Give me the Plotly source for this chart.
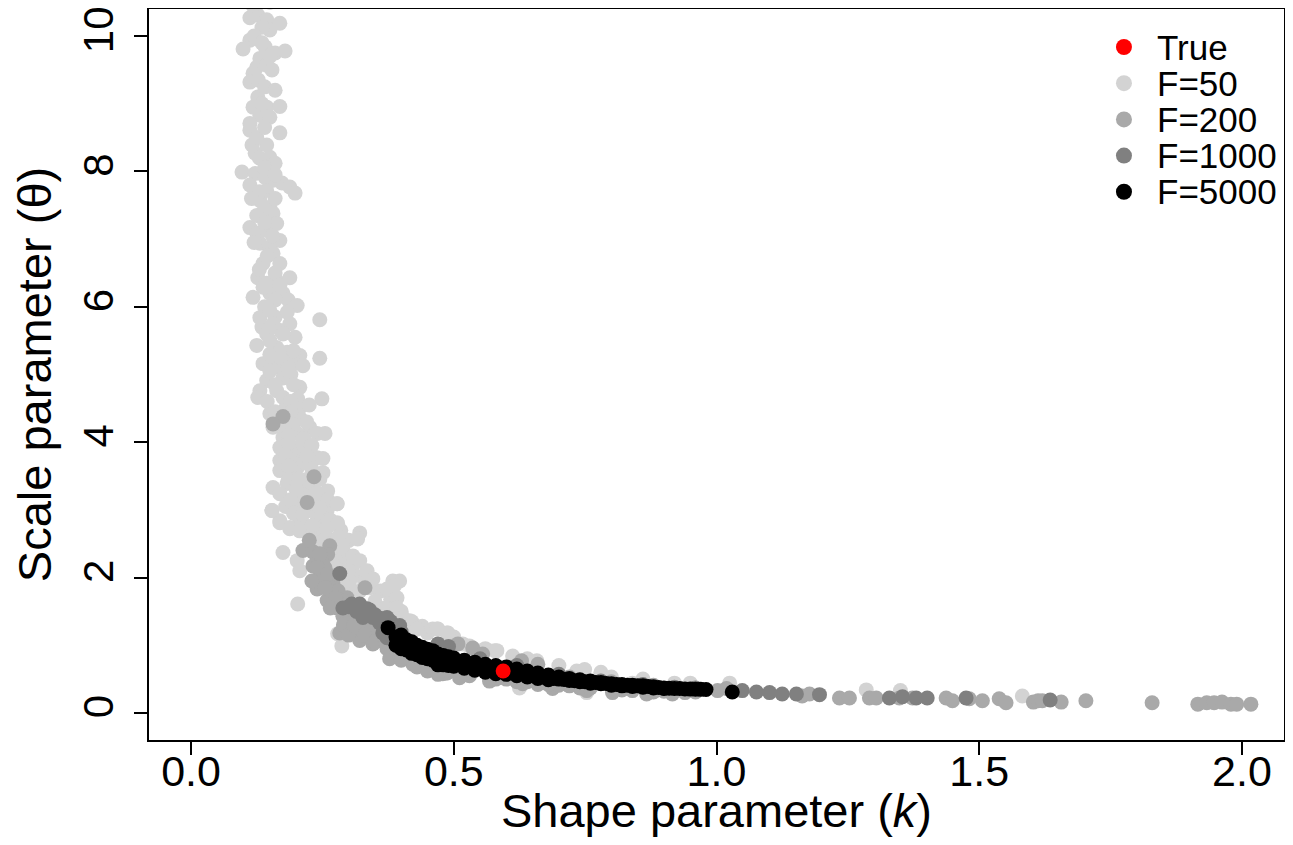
import plotly.graph_objects as go

# F=50 estimates (light grey)
f50_x = [0.112, 0.127, 0.144, 0.169, 0.150, 0.135, 0.112, 0.099, 0.141, 0.160, 0.179, 0.131, 0.125, 0.144,
         0.154, 0.118, 0.112, 0.127, 0.118, 0.144, 0.169, 0.131, 0.112, 0.112, 0.169, 0.116, 0.144, 0.122,
         0.150, 0.160, 0.097, 0.122, 0.112, 0.141, 0.156, 0.173, 0.188, 0.198, 0.144, 0.131, 0.150, 0.156,
         0.112, 0.125, 0.144, 0.163, 0.131, 0.150, 0.169, 0.156, 0.137, 0.169, 0.127, 0.144, 0.188, 0.169,
         0.118, 0.150, 0.135,
         0.120, 0.135, 0.150, 0.128, 0.140, 0.160, 0.135, 0.150, 0.125, 0.140, 0.130, 0.140, 0.160, 0.130,
         0.115, 0.140, 0.160, 0.125, 0.140, 0.155, 0.120, 0.145, 0.160, 0.130, 0.150, 0.175, 0.140, 0.160,
         0.185, 0.135,
         0.118, 0.137, 0.169, 0.202, 0.183, 0.131, 0.156, 0.188, 0.245, 0.144, 0.198, 0.125, 0.163, 0.183,
         0.207, 0.245, 0.137, 0.169, 0.194, 0.213, 0.144, 0.175, 0.131, 0.163, 0.207, 0.127, 0.175, 0.203,
         0.249, 0.150, 0.207, 0.207, 0.156, 0.175, 0.202, 0.226, 0.240, 0.255, 0.169, 0.202, 0.226, 0.169,
         0.202, 0.240, 0.251, 0.169, 0.202, 0.251, 0.156, 0.183, 0.207, 0.232, 0.260, 0.169, 0.202, 0.245,
         0.278, 0.154, 0.202, 0.226, 0.259, 0.169, 0.207, 0.240, 0.278, 0.188, 0.232,
         0.160, 0.150, 0.170, 0.160, 0.190, 0.180, 0.190, 0.180, 0.190, 0.215, 0.220, 0.190, 0.230, 0.220,
         0.180, 0.240, 0.210, 0.250,
         0.150, 0.175, 0.150, 0.170, 0.195, 0.150, 0.185, 0.160, 0.195, 0.145, 0.190, 0.225, 0.160, 0.190,
         0.165, 0.195, 0.220, 0.185, 0.215, 0.185, 0.230, 0.180, 0.220, 0.185, 0.230, 0.185, 0.205, 0.245,
         0.200, 0.240, 0.190, 0.225, 0.260, 0.195, 0.240, 0.215, 0.265, 0.245, 0.285, 0.230, 0.265, 0.300,
         0.250, 0.280, 0.300, 0.280, 0.310, 0.270, 0.310, 0.330, 0.300, 0.340, 0.360, 0.350, 0.380, 0.370,
         0.400, 0.390, 0.420, 0.440, 0.410, 0.450, 0.500, 0.560, 0.640, 0.700, 0.780, 0.860, 0.950,
         0.154, 0.169, 0.188, 0.213, 0.245, 0.278, 0.207, 0.232, 0.259, 0.279, 0.321, 0.317, 0.175, 0.202,
         0.226, 0.251, 0.264, 0.289, 0.308, 0.321, 0.335, 0.346, 0.384, 0.373, 0.392, 0.207, 0.203, 0.279,
         0.287, 0.392, 0.403, 0.416, 0.430, 0.460, 0.487, 0.517, 0.536, 0.321, 0.302, 0.289,
         0.240, 0.270, 0.230, 0.280, 0.260, 0.300, 0.290, 0.397, 0.387,
         0.470, 0.489, 0.468, 0.530, 0.534, 0.578, 0.582, 0.612, 0.658, 0.734, 0.745, 0.749, 0.840, 0.487,
         0.625, 0.753, 0.780, 0.800, 0.920, 1.025, 1.285, 1.350, 1.582]
f50_y = [10.27, 10.31, 10.24, 10.19, 10.09, 10.13, 9.94, 9.81, 9.84, 9.75, 9.78, 9.67, 9.54, 9.57,
         9.50, 9.45, 9.32, 9.10, 8.95, 8.95, 8.96, 8.83, 8.71, 8.61, 8.57, 8.39, 8.39, 8.27,
         8.21, 8.12, 7.99, 7.97, 7.80, 7.91, 7.87, 7.83, 7.77, 7.68, 7.72, 7.57, 7.47, 7.38,
         7.17, 7.09, 7.13, 7.23, 6.94, 6.88, 6.98, 6.79, 6.64, 6.64, 6.43, 6.35, 6.43, 6.35,
         10.45, 10.50, 10.60,
         10.00, 9.90, 9.70, 9.35, 9.25, 9.20, 9.00, 8.80, 8.50, 8.65, 8.20, 8.05, 7.95, 7.70,
         7.60, 7.45, 7.60, 7.35, 7.25, 7.05, 6.95, 6.75, 6.50, 6.55, 6.20, 6.20, 6.00, 5.85,
         6.10, 5.70,
         6.14, 6.29, 6.32, 6.02, 5.92, 5.84, 5.75, 5.75, 5.81, 5.60, 5.55, 5.43, 5.40, 5.33,
         5.28, 5.24, 5.16, 5.10, 5.16, 5.13, 4.91, 4.95, 4.76, 4.76, 4.81, 4.66, 4.66, 4.64,
         4.64, 4.42, 4.51, 4.36, 4.22, 4.07, 4.13, 4.22, 4.13, 4.13, 3.92, 3.92, 3.88, 3.73,
         3.77, 3.77, 3.76, 3.58, 3.62, 3.55, 3.33, 3.39, 3.33, 3.28, 3.28, 3.24, 3.18, 3.14,
         3.09, 2.99, 2.99, 2.99, 2.99, 2.84, 2.84, 2.84, 2.81, 2.74, 2.74,
         6.10, 5.95, 5.65, 5.20, 5.00, 4.50, 4.30, 4.20, 3.85, 3.70, 3.45, 3.50, 3.40, 3.20,
         3.05, 3.05, 2.90, 2.90,
         5.50, 5.60, 5.30, 5.25, 5.35, 5.05, 5.10, 4.85, 4.85, 4.60, 4.60, 4.55, 4.45, 4.45,
         4.30, 4.25, 4.30, 4.10, 4.05, 3.98, 3.95, 3.80, 3.80, 3.65, 3.60, 3.45, 3.45, 3.45,
         3.30, 3.25, 3.15, 3.10, 3.15, 2.95, 2.95, 2.78, 2.85, 2.65, 2.70, 2.55, 2.55, 2.55,
         2.40, 2.35, 2.30, 2.20, 2.20, 2.05, 2.05, 1.95, 1.85, 1.85, 1.80, 1.65, 1.68, 1.55,
         1.50, 1.40, 1.35, 1.28, 1.25, 1.18, 1.12, 0.95, 0.80, 0.70, 0.60, 0.50, 0.44,
         2.99, 2.81, 2.72, 2.94, 3.03, 3.09, 2.69, 2.77, 2.74, 2.80, 2.66, 2.57, 2.37, 2.25,
         2.59, 2.54, 2.37, 2.44, 2.32, 2.25, 2.10, 1.98, 1.95, 1.83, 1.70, 2.10, 1.61, 1.17,
         0.99, 1.55, 1.41, 1.36, 1.24, 1.24, 1.18, 1.02, 0.96, 1.80, 1.95, 2.10,
         2.30, 2.20, 2.45, 2.60, 2.15, 2.10, 1.90, 1.95, 1.88,
         1.24, 1.18, 1.24, 0.99, 0.96, 0.92, 0.92, 0.84, 0.77, 0.62, 0.62, 0.64, 0.44, 0.59,
         0.37, 0.30, 0.56, 0.53, 0.44, 0.44, 0.34, 0.33, 0.25]

# F=200 estimates (mid grey)
f200_x = [0.175, 0.156, 0.234, 0.221,
          0.213, 0.232, 0.264, 0.260, 0.232, 0.255, 0.251, 0.245, 0.270, 0.240, 0.268, 0.259, 0.278, 0.289,
          0.302, 0.283, 0.317, 0.331, 0.297, 0.321, 0.346, 0.373, 0.378, 0.397, 0.422, 0.460, 0.487, 0.525,
          0.544, 0.479,
          0.260, 0.280, 0.290, 0.310, 0.330, 0.350, 0.360, 0.340, 0.390, 0.410, 0.440, 0.500,
          0.225, 0.245, 0.240, 0.260, 0.230, 0.255, 0.275, 0.265, 0.290, 0.300, 0.310, 0.330, 0.350, 0.370,
          0.400, 0.430, 0.450, 0.470, 0.530, 0.580, 0.620, 0.660, 0.740, 0.820, 0.900, 0.960,
          0.508, 0.536, 0.555, 0.629, 0.660, 0.511, 0.568, 0.631, 0.688, 0.753, 0.802, 0.867, 0.916, 0.700,
          0.720, 0.800, 0.880,
          0.600, 0.640, 0.680, 0.720, 0.760, 0.840, 0.880, 0.940,
          1.002, 1.019, 1.163, 1.177, 1.234, 1.253, 1.291, 1.304, 1.348, 1.373, 1.437, 1.449, 1.481, 1.506,
          1.538, 1.551, 1.603, 1.612, 1.620, 1.656, 1.703, 1.829, 1.916, 1.933, 1.947, 1.962, 1.979, 1.990,
          2.017]
f200_y = [4.38, 4.27, 3.49, 3.11,
          2.40, 2.38, 2.47, 2.34, 2.17, 2.14, 2.20, 2.00, 1.91, 1.83, 1.76, 1.66, 1.55, 1.43,
          1.36, 1.18, 1.24, 1.85, 1.70, 1.07, 1.02, 0.95, 0.80, 0.87, 0.72, 0.67, 0.59, 0.58,
          0.67, 0.58,
          1.95, 1.80, 1.65, 1.50, 1.35, 1.20, 1.10, 1.25, 0.95, 0.85, 0.76, 0.63,
          2.55, 2.35, 2.15, 2.05, 1.95, 1.85, 1.70, 1.55, 1.30, 1.15, 1.30, 1.15, 1.05, 1.05,
          0.78, 0.68, 0.62, 0.57, 0.55, 0.50, 0.46, 0.42, 0.37, 0.34, 0.32, 0.31,
          1.02, 0.96, 0.87, 0.77, 0.72, 0.52, 0.47, 0.43, 0.36, 0.33, 0.30, 0.28, 0.28, 0.41,
          0.53, 0.46, 0.41,
          0.50, 0.46, 0.42, 0.40, 0.37, 0.33, 0.31, 0.30,
          0.33, 0.36, 0.25, 0.28, 0.22, 0.22, 0.22, 0.22, 0.22, 0.22, 0.22, 0.18, 0.21, 0.18,
          0.21, 0.15, 0.16, 0.18, 0.18, 0.16, 0.18, 0.15, 0.13, 0.15, 0.15, 0.16, 0.13, 0.13,
          0.13]

# F=1000 estimates (dark grey)
f1000_x = [0.283, 0.289, 0.306, 0.321, 0.335, 0.327, 0.346, 0.359, 0.373, 0.378, 0.365, 0.392, 0.397,
           0.373, 0.300, 0.315, 0.340, 0.355,
           0.310, 0.325, 0.340, 0.350, 0.360, 0.380, 0.390, 0.400, 0.335,
           0.470, 0.490, 0.550, 0.620, 0.700, 0.780, 0.860, 0.920, 0.960,
           1.049, 1.076, 1.101, 1.125, 1.152, 1.196, 1.329, 1.354, 1.380, 1.401, 1.475, 1.635]
f1000_y = [2.06, 1.55, 1.61, 1.61, 1.54, 1.41, 1.41, 1.33, 1.41, 1.26, 1.18, 1.18, 1.29,
           1.11, 1.57, 1.50, 1.48, 1.40,
           1.58, 1.55, 1.52, 1.45, 1.40, 1.35, 1.25, 1.20, 1.48,
           1.02, 0.98, 0.80, 0.70, 0.57, 0.47, 0.42, 0.38, 0.37,
           0.33, 0.31, 0.30, 0.28, 0.28, 0.27, 0.22, 0.24, 0.22, 0.22, 0.22, 0.19]

# F=5000 estimates (black)
f5000_x = [0.375, 0.39, 0.39, 0.40, 0.40, 0.40, 0.41, 0.41, 0.42, 0.42, 0.42, 0.43, 0.43,
           0.44, 0.44, 0.44, 0.45, 0.45, 0.46, 0.46, 0.46, 0.47, 0.47, 0.48, 0.48, 0.48,
           0.49, 0.49, 0.50, 0.50, 0.50, 0.52, 0.52, 0.52, 0.54, 0.54, 0.54, 0.56, 0.56, 0.56,
           0.58, 0.58, 0.58, 0.60, 0.60, 0.60, 0.62, 0.62, 0.62, 0.64, 0.64, 0.64, 0.66, 0.66, 0.66,
           0.68, 0.68, 0.68, 0.70, 0.70, 0.72, 0.72, 0.74, 0.74, 0.76, 0.76, 0.78, 0.78, 0.80, 0.80,
           0.82, 0.82, 0.84, 0.84, 0.86, 0.86, 0.88, 0.88, 0.90, 0.90, 0.92, 0.94, 0.96, 0.98, 1.03,
           0.51, 0.53, 0.55, 0.57, 0.59, 0.61, 0.63, 0.65, 0.67, 0.69, 0.71, 0.73, 0.75, 0.77,
           0.79, 0.81, 0.83, 0.85, 0.87, 0.89, 0.91, 0.93, 0.95, 0.97]
f5000_y = [1.26, 1.12, 1.00, 1.15, 1.05, 0.95, 1.08, 0.93, 1.05, 0.95, 0.88, 1.00, 0.86,
           0.97, 0.88, 0.82, 0.94, 0.80, 0.92, 0.84, 0.78, 0.87, 0.71, 0.85, 0.78, 0.71,
           0.83, 0.70, 0.81, 0.75, 0.69, 0.78, 0.72, 0.66, 0.75, 0.69, 0.63, 0.72, 0.66, 0.60,
           0.70, 0.64, 0.58, 0.68, 0.62, 0.57, 0.65, 0.60, 0.55, 0.62, 0.58, 0.53, 0.59, 0.55, 0.51,
           0.56, 0.52, 0.49, 0.53, 0.50, 0.51, 0.48, 0.49, 0.46, 0.47, 0.44, 0.45, 0.43, 0.43, 0.41,
           0.42, 0.40, 0.41, 0.39, 0.40, 0.38, 0.385, 0.37, 0.37, 0.36, 0.36, 0.355, 0.35, 0.345, 0.31,
           0.73, 0.70, 0.67, 0.64, 0.62, 0.60, 0.58, 0.55, 0.53, 0.51, 0.495, 0.475, 0.46, 0.45,
           0.435, 0.42, 0.41, 0.40, 0.39, 0.375, 0.365, 0.36, 0.352, 0.348]

true_x = [0.594]
true_y = [0.62]

legend_names = ["True", "F=50", "F=200", "F=1000", "F=5000"]
legend_colors = ["#FF0000", "#D3D3D3", "#A9A9A9", "#808080", "#000000"]

font = "Liberation Sans, Arial, Helvetica, sans-serif"
msize = 15

fig = go.Figure()
series = [
    (f50_x, f50_y, "#D3D3D3"),
    (f200_x, f200_y, "#A9A9A9"),
    (f1000_x, f1000_y, "#808080"),
    (f5000_x, f5000_y, "#000000"),
    (true_x, true_y, "#FF0000"),
]
for xs, ys, col in series:
    fig.add_trace(go.Scatter(x=xs, y=ys, mode="markers", showlegend=False,
                             marker=dict(color=col, size=msize, line=dict(width=0))))

# legend drawn by hand so that rows sit as tight as in the original
for i, (name, col) in enumerate(zip(legend_names, legend_colors)):
    yy = 0.948 - i * 0.0495
    fig.add_shape(type="circle", xref="paper", yref="paper", xsizemode="pixel", ysizemode="pixel",
                  xanchor=0.859, yanchor=yy, x0=-8, x1=8, y0=-8, y1=8,
                  fillcolor=col, line=dict(width=0))
    fig.add_annotation(x=0.886, y=yy, xref="paper", yref="paper", text=name, showarrow=False,
                       xanchor="left", yanchor="middle", font=dict(size=35))

# the page body adds an 8px margin, so the figure is 16px smaller than the window
fig.update_layout(
    width=1277, height=829,
    margin=dict(l=141, r=1, t=1, b=97),
    paper_bgcolor="white", plot_bgcolor="white",
    font=dict(family=font, color="black", size=44),
    showlegend=False,
)
fig.update_xaxes(range=[-0.08, 2.08], tickvals=[0, 0.5, 1, 1.5, 2],
                 ticktext=["0.0", "0.5", "1.0", "1.5", "2.0"], automargin=False,
                 showgrid=False, zeroline=False, showline=True, mirror=True,
                 linecolor="black", linewidth=1.5, ticks="outside", ticklen=13, tickwidth=1.5,
                 tickcolor="black", tickfont=dict(size=43), ticklabelstandoff=-20,
                 ticklabeloverflow="allow",
                 title=dict(text="Shape parameter (<i>k</i>)", font=dict(size=47), standoff=8))
fig.update_yaxes(range=[-0.4, 10.4], tickvals=[0, 2, 4, 6, 8, 10], tickangle=-90, automargin=False,
                 showgrid=False, zeroline=False, showline=True, mirror=True,
                 linecolor="black", linewidth=1.5, ticks="outside", ticklen=13, tickwidth=1.5,
                 tickcolor="black", tickfont=dict(size=42), ticklabelstandoff=4,
                 ticklabeloverflow="allow",
                 title=dict(text="Scale parameter (θ)", font=dict(size=47), standoff=12))

fig.write_html("out.html")
